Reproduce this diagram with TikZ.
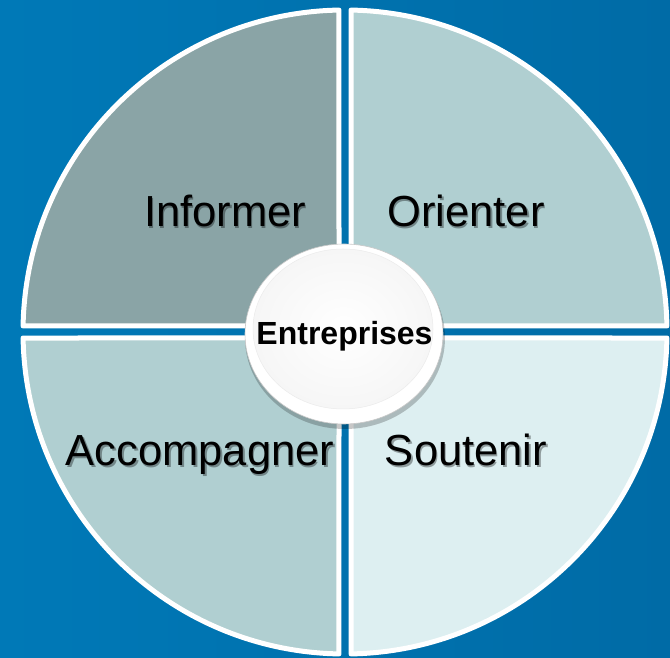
\documentclass[tikz,border=0pt]{standalone}
\usepackage{fontspec}
\setmainfont{Liberation Sans}
\usetikzlibrary{calc}
\definecolor{bgL}{RGB}{0,121,183}
\definecolor{bgR}{RGB}{0,107,166}
\definecolor{qTL}{RGB}{138,164,166}
\definecolor{qTR}{RGB}{176,207,209}
\definecolor{qBL}{RGB}{176,207,209}
\definecolor{qBR}{RGB}{221,239,241}
\definecolor{rimgray}{RGB}{200,200,200}
\definecolor{innerfill}{RGB}{246,246,246}
\tikzset{
  quad/.style={draw=white, line width=5pt, line join=round},
  lbl/.style={font=\fontsize{43.5}{50}\selectfont, anchor=base, inner sep=0pt, text=black},
  lblshadow/.style={font=\fontsize{43.5}{50}\selectfont, anchor=base, inner sep=0pt, text=black, opacity=0.35},
}
\begin{document}
\begin{tikzpicture}[x=1pt,y=1pt]
\useasboundingbox (0,0) rectangle (670,658);
\shade[left color=bgL, right color=bgR] (0,0) rectangle (670,658);
\coordinate (C) at (345,326);
% quadrants
\draw[quad, fill=qTL] (339,332) -- ([shift={(91.07:322)}]C) arc[start angle=91.07, end angle=178.93, radius=322] -- cycle;
\draw[quad, fill=qTR] (351,332) -- ([shift={(88.93:322)}]C) arc[start angle=88.93, end angle=1.07, radius=322] -- cycle;
\draw[quad, fill=qBL] (339,320) -- ([shift={(181.07:322)}]C) arc[start angle=181.07, end angle=268.93, radius=322] -- cycle;
\draw[quad, fill=qBR] (351,320) -- ([shift={(271.07:322)}]C) arc[start angle=271.07, end angle=358.93, radius=322] -- cycle;
% labels with soft shadow
\node[lblshadow] at (226.5,429.5) {Informer};
\node[lbl] (inf) at (225,431) {Informer};
\node[lblshadow] at (467.5,429.5) {Orienter};
\node[lbl] (ori) at (466,431) {Orienter};
\node[lblshadow] at (201.5,190.5) {Accompagner};
\node[lbl] (acc) at (200,192) {Accompagner};
\node[lblshadow] at (467.5,190.5) {Soutenir};
\node[lbl] (sou) at (466,192) {Soutenir};
% centre disc
\fill[black, opacity=0.22] (345,320) ellipse [x radius=100, y radius=91];
\fill[white, draw=rimgray, line width=0.6pt] (344,324) ellipse [x radius=99, y radius=90];
\shade[inner color=white, outer color=innerfill, draw=white!92!black, line width=0.5pt] (343,329) ellipse [x radius=90, y radius=80];
\node[font=\bfseries\fontsize{32}{36}\selectfont, anchor=base, inner sep=0pt] (ent) at (344.5,313) {Entreprises};
\end{tikzpicture}
\end{document}
